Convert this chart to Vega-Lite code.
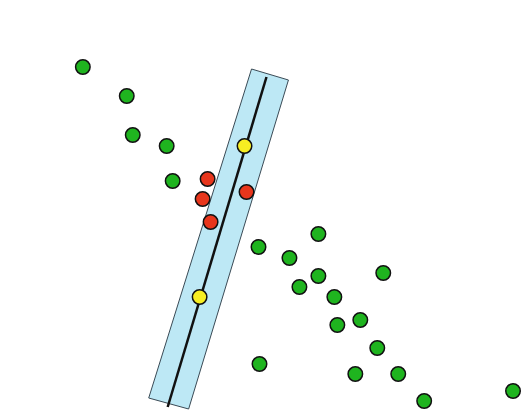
{
  "$schema": "https://vega.github.io/schema/vega-lite/v6.json",
  "width": 524,
  "height": 420,
  "padding": 0,
  "autosize": {"type": "fit", "contains": "padding"},
  "background": "white",
  "view": {"stroke": null},
  "datasets": {
    "rect": [
      {"order": 1, "x": 252, "y": 69},
      {"order": 2, "x": 289, "y": 80},
      {"order": 3, "x": 189, "y": 409},
      {"order": 4, "x": 149, "y": 398},
      {"order": 5, "x": 252, "y": 69}
    ],
    "axisline": [
      {"x": 267, "y": 77, "x2": 168, "y2": 407}
    ],
    "points": [
      {"x": 83, "y": 67, "group": "green"},
      {"x": 127, "y": 96, "group": "green"},
      {"x": 133, "y": 135, "group": "green"},
      {"x": 167, "y": 146, "group": "green"},
      {"x": 173, "y": 181, "group": "green"},
      {"x": 259, "y": 247, "group": "green"},
      {"x": 290, "y": 258, "group": "green"},
      {"x": 319, "y": 234, "group": "green"},
      {"x": 319, "y": 276, "group": "green"},
      {"x": 300, "y": 287, "group": "green"},
      {"x": 335, "y": 297, "group": "green"},
      {"x": 384, "y": 273, "group": "green"},
      {"x": 338, "y": 325, "group": "green"},
      {"x": 361, "y": 320, "group": "green"},
      {"x": 378, "y": 348, "group": "green"},
      {"x": 260, "y": 364, "group": "green"},
      {"x": 356, "y": 374, "group": "green"},
      {"x": 399, "y": 374, "group": "green"},
      {"x": 425, "y": 401, "group": "green"},
      {"x": 514, "y": 391, "group": "green"},
      {"x": 208, "y": 179, "group": "red"},
      {"x": 203, "y": 199, "group": "red"},
      {"x": 211, "y": 222, "group": "red"},
      {"x": 247, "y": 192, "group": "red"},
      {"x": 245, "y": 146, "group": "yellow"},
      {"x": 200, "y": 297, "group": "yellow"}
    ]
  },
  "layer": [
    {
      "data": {"name": "rect"},
      "mark": {"type": "line", "fill": "#bde8f5", "stroke": "#3a4a55", "strokeWidth": 1, "interpolate": "linear"},
      "encoding": {
        "x": {"field": "x", "type": "quantitative", "scale": {"domain": [0, 524], "nice": false, "zero": false}, "axis": null},
        "y": {"field": "y", "type": "quantitative", "scale": {"domain": [0, 420], "nice": false, "zero": false, "reverse": true}, "axis": null},
        "order": {"field": "order", "type": "quantitative"}
      }
    },
    {
      "data": {"name": "axisline"},
      "mark": {"type": "rule", "color": "#111111", "strokeWidth": 2.5},
      "encoding": {
        "x": {"field": "x", "type": "quantitative"},
        "y": {"field": "y", "type": "quantitative"},
        "x2": {"field": "x2"},
        "y2": {"field": "y2"}
      }
    },
    {
      "data": {"name": "points"},
      "mark": {"type": "circle", "size": 210, "opacity": 1, "stroke": "#111111", "strokeWidth": 1.5},
      "encoding": {
        "x": {"field": "x", "type": "quantitative"},
        "y": {"field": "y", "type": "quantitative"},
        "color": {"field": "group", "type": "nominal", "scale": {"domain": ["green", "red", "yellow"], "range": ["#1fb41f", "#e8361c", "#f7ee22"]}, "legend": null}
      }
    }
  ]
}
